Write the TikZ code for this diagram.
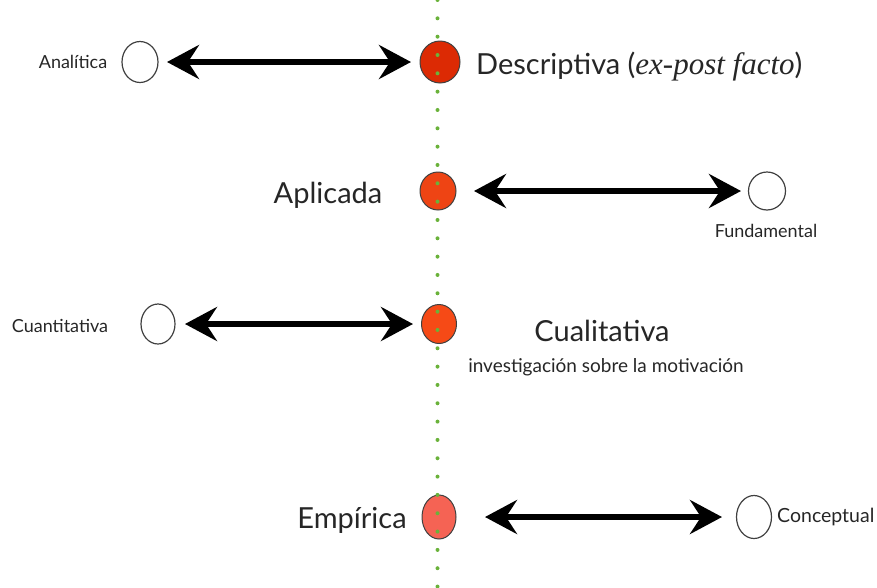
\documentclass[tikz,border=0pt]{standalone}
\usepackage{fontspec}
\setmainfont{Lato}
\newfontfamily\itserif{Liberation Serif}
\usetikzlibrary{arrows.meta}
\definecolor{dotgreen}{HTML}{6AB23A}
\definecolor{redA}{HTML}{DC2A04}
\definecolor{redB}{HTML}{EE4414}
\definecolor{redC}{HTML}{F64A16}
\definecolor{redD}{HTML}{F56354}
\tikzset{
  emptypole/.style={draw=black!75, line width=1.2pt, fill=white},
  bigtxt/.style={font=\fontsize{29}{32}\selectfont, text=black!85, inner sep=0pt},
  midtxt/.style={font=\fontsize{19}{22}\selectfont, text=black!85, inner sep=0pt},
  smalltxt/.style={font=\fontsize{18}{20}\selectfont, text=black!85, inner sep=0pt},
  span/.style={line width=6pt, {Stealth[length=32pt,width=34pt,inset=11pt]}-{Stealth[length=32pt,width=34pt,inset=11pt]}}
}
\begin{document}
\begin{tikzpicture}[x=1pt,y=-1pt]
\useasboundingbox (0,0) rectangle (877,587);

% poles of each dimension
\fill[redA, draw=black!75, line width=1pt] (440,62) ellipse [x radius=20, y radius=21];
\fill[emptypole] (140,62) ellipse [x radius=18, y radius=20.5];

\fill[redB, draw=black!75, line width=1pt] (438,191) ellipse [x radius=18, y radius=19];
\fill[emptypole] (767,191) ellipse [x radius=18.5, y radius=19];

\fill[redC, draw=black!75, line width=1pt] (439,324) ellipse [x radius=17.5, y radius=19.5];
\fill[emptypole] (158,324) ellipse [x radius=17, y radius=20];

\fill[redD, draw=black!75, line width=1pt] (439,517) ellipse [x radius=17, y radius=22];
\fill[emptypole] (754,517) ellipse [x radius=17.5, y radius=21.5];

% central dotted axis
\coordinate (axtop) at (437.5,0);
\coordinate (axbot) at (437.5,587);
\draw[dotgreen, line width=4pt, line cap=round, dash pattern=on 0pt off 18.33pt] (axtop) -- (axbot);

% double arrows between the poles
\coordinate (a1l) at (167,62);  \coordinate (a1r) at (411,62);
\coordinate (a2l) at (474,191); \coordinate (a2r) at (741,191);
\coordinate (a3l) at (185,324); \coordinate (a3r) at (413,324);
\coordinate (a4l) at (485,517); \coordinate (a4r) at (722,517);
\draw[span] (a1l) -- (a1r);
\draw[span] (a2l) -- (a2r);
\draw[span] (a3l) -- (a3r);
\draw[span] (a4l) -- (a4r);

% labels
\node[smalltxt] (tAnal) at (73,62) {Analítica};
\node[bigtxt, anchor=west] (tDescr) at (476,67) {Descriptiva ({\itserif\itshape\fontsize{31}{32}\selectfont ex-post facto})};
\node[bigtxt] (tApl) at (328,195) {Aplicada};
\node[smalltxt] (tFund) at (766,231) {Fundamental};
\node[smalltxt] (tCuan) at (60,326) {Cuantitativa};
\node[bigtxt] (tCual) at (602,331) {Cualitativa};
\node[midtxt] (tMot) at (606,367) {investigación sobre la motivación};
\node[bigtxt] (tEmp) at (352,520) {Empírica};
\node[smalltxt, font=\fontsize{19.5}{21}\selectfont, anchor=west] (tConc) at (777,517) {Conceptual};
\end{tikzpicture}
\end{document}
